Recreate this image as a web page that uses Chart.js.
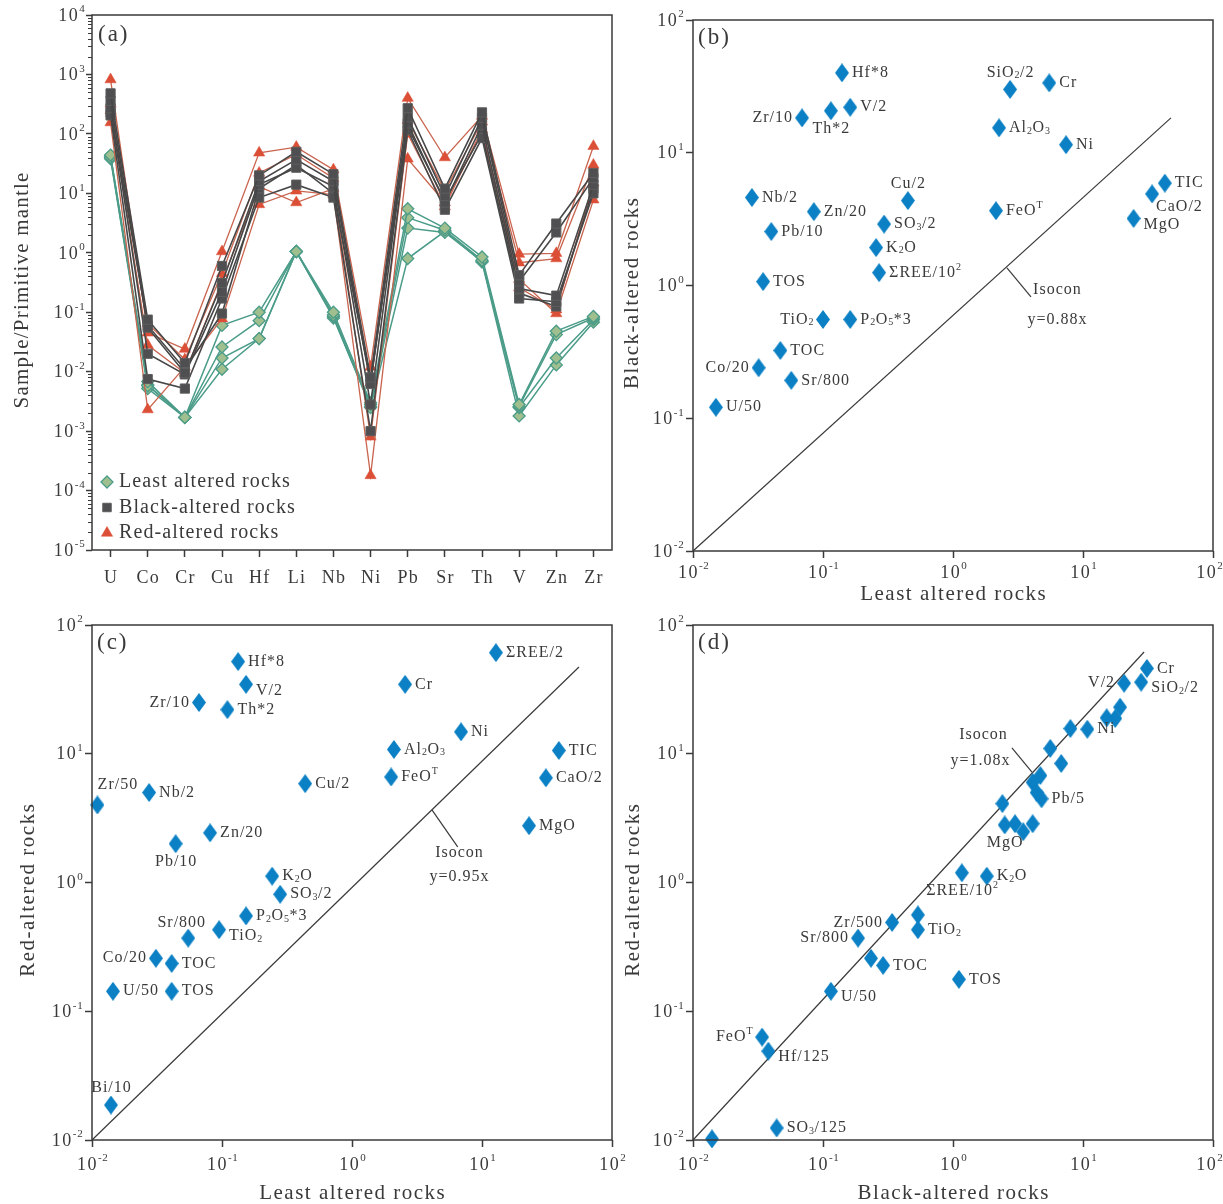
<!DOCTYPE html>
<html>
<head>
<meta charset="utf-8">
<title>Element profiles and isocon plots</title>
<script src="https://cdn.jsdelivr.net/npm/chart.js@4.4.1/dist/chart.umd.min.js"></script>
<style>
  html, body { margin: 0; padding: 0; background: #fff; }
  #page { position: relative; width: 1223px; height: 1204px; overflow: hidden; }
  #page canvas { position: absolute; }
</style>
</head>
<body>
<div id="page">
  <canvas id="panelA" width="640" height="600" style="left:0;top:0"></canvas>
  <canvas id="panelB" width="611" height="600" style="left:612px;top:0"></canvas>
  <canvas id="panelC" width="640" height="604" style="left:0;top:600px"></canvas>
  <canvas id="panelD" width="611" height="604" style="left:612px;top:600px"></canvas>
</div>
<script>
// ---- panel (a): sample / primitive mantle ----
const elements = ['U', 'Co', 'Cr', 'Cu', 'Hf', 'Li', 'Nb', 'Ni', 'Pb', 'Sr', 'Th', 'V', 'Zn', 'Zr'];
const profileTicks = [1e-5, 1e-4, 1e-3, 1e-2, 1e-1, 1, 10, 100, 1000, 10000];

const least1 = [44, 0.0068, 0.0017, 0.060, 0.100, 1.05, 0.100, 0.0030, 5.5, 2.6, 0.85, 0.0028, 0.048, 0.085];
const least2 = [40, 0.0058, 0.0017, 0.026, 0.072, 1.05, 0.090, 0.0028, 3.9, 2.4, 0.75, 0.0026, 0.042, 0.080];
const least3 = [38, 0.0052, 0.0017, 0.017, 0.036, 1.05, 0.085, 0.0025, 2.6, 2.2, 0.72, 0.0025, 0.017, 0.075];
const least4 = [42, 0.0060, 0.0017, 0.011, 0.036, 1.05, 0.080, 0.0026, 0.80, 2.3, 0.70, 0.0018, 0.013, 0.068];

const black1 = [480, 0.075, 0.014, 0.60, 20, 50, 21, 0.0080, 270, 12, 230, 0.42, 3.1, 22];
const black2 = [360, 0.055, 0.0095, 0.31, 16, 37, 16, 0.0062, 190, 9.0, 185, 0.33, 2.2, 18];
const black3 = [270, 0.020, 0.0090, 0.22, 14, 27, 13, 0.0028, 150, 7.0, 140, 0.25, 0.19, 14];
const black4 = [205, 0.0075, 0.0052, 0.17, 8.5, 14, 8.5, 0.0010, 115, 5.3, 85, 0.17, 0.15, 10];
const black5 = [230, 0.060, 0.011, 0.095, 12, 30, 10, 0.0070, 130, 7.5, 100, 0.21, 0.125, 12];

const red1 = [820, 0.045, 0.024, 1.05, 48, 60, 25, 0.012, 400, 40, 200, 0.95, 0.98, 62];
const red2 = [320, 0.065, 0.016, 0.45, 22, 45, 18, 0.0065, 170, 11, 160, 0.68, 0.80, 30];
const red3 = [155, 0.0023, 0.012, 0.078, 6.5, 11, 9.5, 0.00018, 38, 7.0, 105, 0.36, 0.095, 7.8];
const red4 = [250, 0.028, 0.0095, 0.33, 13, 7.0, 12, 0.0008, 100, 6.0, 120, 0.26, 0.11, 15];

// ---- panels (b)-(d): isocon diagrams ----
const isoconTicks = [0.01, 0.1, 1, 10, 100];

// (b) least altered (x) vs black-altered (y)
const bLabels = ['Hf*8', 'V/2', 'Th*2', 'Zr/10', 'SiO_2/2', 'Cr', 'Al_2O_3', 'Ni', 'Cu/2', 'Nb/2', 'Zn/20', 'SO_3/2', 'Pb/10',
  'K_2O', 'ΣREE/10^2', 'TOS', 'FeO^T', 'TIC', 'CaO/2', 'MgO', 'TiO_2', 'P_2O_5*3', 'TOC', 'Co/20', 'Sr/800', 'U/50'];
const bLeast = [0.14, 0.162, 0.115, 0.069, 2.75, 5.5, 2.26, 7.4, 0.45, 0.0284, 0.085, 0.295, 0.040,
  0.256, 0.27, 0.0346, 2.14, 42.6, 34, 24.5, 0.100, 0.162, 0.047, 0.032, 0.057, 0.015];
const bBlack = [40, 22, 20.7, 18.3, 30, 33.6, 15.4, 11.5, 4.36, 4.6, 3.6, 2.9, 2.55,
  1.93, 1.25, 1.07, 3.66, 5.9, 4.9, 3.2, 0.555, 0.555, 0.324, 0.24, 0.193, 0.121];
const bIsocon = [[0.01, 0.01], [47.5, 18.3]];

// (c) least altered (x) vs red-altered (y)
const cLabels = ['Hf*8', 'V/2', 'Zr/10', 'Th*2', 'ΣREE/2', 'Cr', 'Ni', 'Al_2O_3', 'FeO^T', 'TIC', 'CaO/2', 'MgO', 'Cu/2', 'Zr/50',
  'Nb/2', 'Zn/20', 'Pb/10', 'K_2O', 'SO_3/2', 'P_2O_5*3', 'TiO_2', 'Sr/800', 'Co/20', 'TOC', 'U/50', 'TOS', 'Bi/10'];
const cLeast = [0.133, 0.153, 0.0665, 0.11, 12.8, 2.56, 6.9, 2.1, 2.0, 39, 31, 23, 0.436, 0.011,
  0.0275, 0.081, 0.044, 0.243, 0.28, 0.153, 0.095, 0.055, 0.031, 0.041, 0.0145, 0.041, 0.014];
const cRed = [52, 34.6, 25, 22, 61, 34.6, 14.8, 10.8, 6.6, 10.6, 6.5, 2.76, 5.86, 4.0,
  5.0, 2.43, 2.0, 1.12, 0.81, 0.55, 0.43, 0.37, 0.258, 0.235, 0.143, 0.143, 0.0187];
const cIsocon = [[0.01, 0.01], [55.7, 47.2]];

// (d) black-altered (x) vs red-altered (y)
const dLabels = ['Cr', 'SiO_2/2', 'V/2', '', '', '', '', 'Ni', '', '', '', '', '', 'Pb/5', '', 'MgO', '', '', '',
  'ΣREE/10^2', 'K_2O', '', 'TiO_2', 'TOS', 'Zr/500', 'Sr/800', '', 'TOC', 'U/50', 'FeO^T', 'Hf/125', 'SO_3/125', ''];
const dBlack = [31, 28, 20.7, 19.3, 17.7, 15.2, 8.0, 10.8, 5.6, 6.8, 4.7, 4.1, 4.4, 4.8, 2.4, 2.5, 3.0, 3.47, 4.1,
  1.17, 1.82, 0.537, 0.537, 1.11, 0.34, 0.186, 0.234, 0.29, 0.115, 0.034, 0.038, 0.044, 0.014];
const dRed = [46, 36, 35.3, 23, 18.8, 19, 15.7, 15.5, 11, 8.4, 6.77, 6.0, 5.0, 4.47, 4.1, 2.8, 2.86, 2.48, 2.86,
  1.19, 1.12, 0.56, 0.43, 0.177, 0.49, 0.37, 0.258, 0.227, 0.143, 0.063, 0.049, 0.0124, 0.0102];
const dIsocon = [[0.01, 0.01], [29.5, 61.7]];

// label placement (offset from the marker, in px)
const bPos = ['r', 'r', 'b', 'l', 't', 'r', 'r', 'r', 't', 'r', 'r', 'r', 'r', 'r', 'r', 'r', 'r', 'r', 'br', 'rb', 'l', 'r', 'r', 'l', 'r', 'r'];
const cPos = ['r', 'rb', 'l', 'r', 'r', 'r', 'r', 'r', 'r', 'r', 'r', 'r', 'r', 'tr', 'r', 'r', 'b', 'r', 'r', 'r', 'rb', 'tl', 'l', 'r', 'r', 'r', 't'];
const dPos = ['r', 'rb', 'l', '', '', '', '', 'r', '', '', '', '', '', 'r', '', 'b', '', '', '', 'b', 'r', '', 'r', 'r', 'l', 'l', '', 'r', 'rb', 'l', 'rb', 'r', ''];
const OFFSET = {
  r: [10, 0, 'left'], l: [-10, 0, 'right'], t: [0, -17, 'center'], b: [0, 18, 'center'],
  rb: [10, 6, 'left'], br: [4, 13, 'left'], tr: [20, -20, 'center'], tl: [-7, -15, 'center']
};

// isocon notes: leader line + text anchor, in data units
const bNote = { leader: [[2.6, 1.36], [3.98, 0.82]], at: [6.3, 0.925], eqAt: [6.3, 0.55], eq: 'y=0.88x' };
const cNote = { leader: [[4.12, 3.66], [6.5, 1.89]], at: [6.65, 1.69], eqAt: [6.65, 1.10], eq: 'y=0.95x' };
const dNote = { leader: [[2.84, 11.1], [4.05, 7.2]], at: [1.70, 14.0], eqAt: [1.61, 8.8], eq: 'y=1.08x' };

const SERIF = "'Liberation Serif', 'Times New Roman', Times, serif";
const INK = '#3a3a3a';
const BLUE = '#0b80c4';

// "_" = subscript digits, "^" = superscript
function parseRich(str) {
  const parts = [];
  let i = 0;
  while (i < str.length) {
    const c = str[i];
    let j = i + 1;
    if (c === '_') {
      while (j < str.length && /[0-9]/.test(str[j])) j++;
      parts.push({ t: str.slice(i + 1, j), k: 'sub' });
    } else if (c === '^') {
      while (j < str.length && /[-0-9T]/.test(str[j])) j++;
      parts.push({ t: str.slice(i + 1, j), k: 'sup' });
    } else {
      j = i;
      while (j < str.length && str[j] !== '_' && str[j] !== '^') j++;
      parts.push({ t: str.slice(i, j), k: 'n' });
    }
    i = j;
  }
  return parts;
}

const fontFor = (k, size) => (k === 'n' ? size : Math.round(size * 0.62)) + 'px ' + SERIF;
const spFor = (k, sp) => (k === 'n' ? sp : sp * 0.5) + 'px';

function measureRich(ctx, parts, size, sp) {
  let total = 0;
  parts.forEach(p => {
    ctx.font = fontFor(p.k, size);
    ctx.letterSpacing = spFor(p.k, sp);
    p.w = ctx.measureText(p.t).width;
    total += p.w;
  });
  ctx.letterSpacing = '0px';
  return total - sp;
}

// maxX keeps the text inside the canvas when given
function drawRich(ctx, str, x, y, size, align, spacing, maxX) {
  const parts = parseRich(str);
  const sp = spacing || 0;
  const total = measureRich(ctx, parts, size, sp);
  let cx = align === 'left' ? x : align === 'right' ? x - total : x - total / 2;
  if (maxX !== undefined && cx + total > maxX) cx = maxX - total;
  ctx.textAlign = 'left';
  ctx.textBaseline = 'middle';
  parts.forEach(p => {
    ctx.font = fontFor(p.k, size);
    ctx.letterSpacing = spFor(p.k, sp);
    const dy = p.k === 'sub' ? size * 0.2 : p.k === 'sup' ? -size * 0.36 : 0;
    ctx.fillText(p.t, cx, y + dy);
    cx += p.w;
  });
  ctx.letterSpacing = '0px';
}

const expLabel = v => '10^' + Math.round(Math.log10(v));

function drawFrame(ctx, a) {
  ctx.lineWidth = 1.5;
  ctx.strokeRect(a.left, a.top, a.right - a.left, a.bottom - a.top);
}

function yTitle(ctx, text, x, y, size, spacing) {
  ctx.save();
  ctx.translate(x, y);
  ctx.rotate(-Math.PI / 2);
  drawRich(ctx, text, 0, 0, size, 'center', spacing);
  ctx.restore();
}

function decoPlugin(draw) {
  return {
    id: 'deco',
    afterDraw(chart) {
      const ctx = chart.ctx;
      ctx.save();
      ctx.fillStyle = INK;
      ctx.strokeStyle = INK;
      draw(ctx, chart.chartArea, chart.scales.x, chart.scales.y, chart);
      ctx.restore();
    }
  };
}

const axisGrid = { drawOnChartArea: false, tickLength: 7, tickColor: INK, tickWidth: 1.5 };

// tall blue diamond used in the isocon plots
function tallDiamond(w, h, color) {
  const c = document.createElement('canvas');
  c.width = w; c.height = h;
  const g = c.getContext('2d');
  g.fillStyle = color;
  g.beginPath();
  g.moveTo(w / 2, 0); g.lineTo(w, h / 2); g.lineTo(w / 2, h); g.lineTo(0, h / 2);
  g.closePath();
  g.fill();
  return c;
}
const blueDiamond = tallDiamond(14, 19, BLUE);

// ---------- panel (a) ----------
const greenStyle = { borderColor: '#4b9c89', borderWidth: 1.5, pointStyle: 'rectRot', pointRadius: 6,
  pointBackgroundColor: '#a0bf8e', pointBorderColor: '#4b9c89', pointBorderWidth: 1.3 };
const blackStyle = { borderColor: '#474747', borderWidth: 1.6, pointStyle: 'rect', pointRadius: 6.5,
  pointBackgroundColor: '#4f4f51', pointBorderColor: '#5e5e5e', pointBorderWidth: 1 };
const redStyle = { borderColor: '#c9654f', borderWidth: 1.3, pointStyle: 'triangle', pointRadius: 6.5,
  pointBackgroundColor: '#dc4f37', pointBorderColor: '#dc4f37', pointBorderWidth: 0.5 };

// dataset 0 is painted last, so black sits on top and green underneath
const profileSets = []
  .concat([black1, black2, black3, black4, black5].map(d => Object.assign({ data: d }, blackStyle)))
  .concat([red1, red2, red3, red4].map(d => Object.assign({ data: d }, redStyle)))
  .concat([least1, least2, least3, least4].map(d => Object.assign({ data: d }, greenStyle)));

function drawPanelA(ctx, a, sx, sy) {
  drawFrame(ctx, a);
  ctx.lineWidth = 1;
  for (let d = 0; d < profileTicks.length - 1; d++) {
    for (let k = 2; k < 10; k++) {
      const py = Math.round(sy.getPixelForValue(profileTicks[d] * k)) + 0.5;
      ctx.beginPath(); ctx.moveTo(a.left - 4, py); ctx.lineTo(a.left, py); ctx.stroke();
    }
  }
  profileTicks.forEach(v => drawRich(ctx, expLabel(v), a.left - 8, sy.getPixelForValue(v) + 1, 18, 'right', 1.5));
  elements.forEach((el, i) => drawRich(ctx, el, sx.getPixelForValue(i), a.bottom + 28, 18, 'center', 1.2));
  yTitle(ctx, 'Sample/Primitive mantle', a.left - 70, (a.top + a.bottom) / 2 + 8, 21, 1.2);
  drawRich(ctx, '(a)', a.left + 6, a.top + 20, 23, 'left', 2);

  // legend
  const rows = [
    ['Least altered rocks', greenStyle, 6],
    ['Black-altered rocks', blackStyle, 6],
    ['Red-altered rocks', redStyle, 6.5]
  ];
  rows.forEach((r, i) => {
    const y = a.bottom - 68 + i * 25.5;
    const st = r[1];
    ctx.save();
    ctx.fillStyle = st.pointBackgroundColor;
    ctx.strokeStyle = st.pointBorderColor;
    ctx.lineWidth = st.pointBorderWidth;
    Chart.helpers.drawPoint(ctx, { pointStyle: st.pointStyle, radius: r[2], rotation: 0, borderWidth: st.pointBorderWidth }, a.left + 15, y);
    ctx.restore();
    ctx.fillStyle = INK;
    drawRich(ctx, r[0], a.left + 27, y, 20, 'left', 1.1);
  });
}

new Chart(document.getElementById('panelA'), {
  type: 'line',
  data: { labels: elements, datasets: profileSets },
  options: {
    responsive: false,
    animation: false,
    events: [],
    layout: { padding: { top: 15, right: 28, bottom: 0, left: 0 } },
    plugins: { legend: { display: false }, tooltip: { enabled: false } },
    scales: {
      x: {
        type: 'category', offset: true,
        ticks: { display: false }, grid: axisGrid, border: { display: false },
        afterFit: s => { s.height = 50; }
      },
      y: {
        type: 'logarithmic', min: 1e-5, max: 1e4,
        ticks: { display: false }, grid: Object.assign({}, axisGrid, { tickLength: 6 }), border: { display: false },
        afterFit: s => { s.width = 92; },
        afterBuildTicks: s => { s.ticks = profileTicks.map(v => ({ value: v })); }
      }
    }
  },
  plugins: [decoPlugin(drawPanelA)]
});

// ---------- panels (b)-(d) ----------
function isoconChart(id, cfg) {
  const pts = cfg.xs.map((x, i) => ({ x: x, y: cfg.ys[i] }));
  const toPts = arr => arr.map(p => ({ x: p[0], y: p[1] }));
  const lineStyle = { showLine: true, borderColor: INK, borderWidth: 1.2, pointRadius: 0, clip: false };

  const draw = (ctx, a, sx, sy, chart) => {
    drawFrame(ctx, a);
    isoconTicks.forEach(v => {
      drawRich(ctx, expLabel(v), a.left - 10, sy.getPixelForValue(v) + 1, 18, 'right', 1.5);
      drawRich(ctx, expLabel(v), sx.getPixelForValue(v), a.bottom + cfg.xLabelGap, 18, 'center', 1.5, chart.width - 1);
    });
    cfg.labels.forEach((t, i) => {
      if (!t) return;
      const o = OFFSET[cfg.pos[i]];
      drawRich(ctx, t, sx.getPixelForValue(cfg.xs[i]) + o[0], sy.getPixelForValue(cfg.ys[i]) + o[1], 16, o[2], 1);
    });
    const n = cfg.note;
    drawRich(ctx, 'Isocon', sx.getPixelForValue(n.at[0]), sy.getPixelForValue(n.at[1]), 16, 'center', 1);
    drawRich(ctx, n.eq, sx.getPixelForValue(n.eqAt[0]), sy.getPixelForValue(n.eqAt[1]), 16, 'center', 1);
    yTitle(ctx, cfg.yTitle, a.left - cfg.yTitleGap, (a.top + a.bottom) / 2 + 8, 21, 1.5);
    drawRich(ctx, cfg.xTitle, (a.left + a.right) / 2, a.bottom + cfg.xTitleGap, 21, 'center', 1.5);
    drawRich(ctx, cfg.letter, a.left + 5, a.top + 18, 23, 'left', 2);
  };

  const logAxis = extra => Object.assign({
    type: 'logarithmic', min: 0.01, max: 100,
    ticks: { display: false }, grid: axisGrid, border: { display: false },
    afterBuildTicks: s => { s.ticks = isoconTicks.map(v => ({ value: v })); }
  }, extra);

  return new Chart(document.getElementById(id), {
    type: 'scatter',
    data: {
      datasets: [
        { data: pts, pointStyle: blueDiamond, pointRadius: 9, clip: false },
        Object.assign({ data: toPts(cfg.isocon) }, lineStyle),
        Object.assign({ data: toPts(cfg.note.leader) }, lineStyle)
      ]
    },
    options: {
      responsive: false,
      animation: false,
      events: [],
      layout: { padding: { top: cfg.top, right: cfg.right, bottom: 0, left: 0 } },
      plugins: { legend: { display: false }, tooltip: { enabled: false } },
      scales: {
        x: logAxis({ afterFit: s => { s.height = cfg.xHeight; } }),
        y: logAxis({ afterFit: s => { s.width = cfg.yWidth; } })
      }
    },
    plugins: [decoPlugin(draw)]
  });
}

isoconChart('panelB', {
  xs: bLeast, ys: bBlack, labels: bLabels, pos: bPos, isocon: bIsocon, note: bNote,
  letter: '(b)', xTitle: 'Least altered rocks', yTitle: 'Black-altered rocks',
  top: 20, right: 10, xHeight: 49, yWidth: 81, xLabelGap: 22, xTitleGap: 43, yTitleGap: 61
});

isoconChart('panelC', {
  xs: cLeast, ys: cRed, labels: cLabels, pos: cPos, isocon: cIsocon, note: cNote,
  letter: '(c)', xTitle: 'Least altered rocks', yTitle: 'Red-altered rocks',
  top: 25, right: 28, xHeight: 64, yWidth: 92, xLabelGap: 25, xTitleGap: 53, yTitleGap: 64
});

isoconChart('panelD', {
  xs: dBlack, ys: dRed, labels: dLabels, pos: dPos, isocon: dIsocon, note: dNote,
  letter: '(d)', xTitle: 'Black-altered rocks', yTitle: 'Red-altered rocks',
  top: 25, right: 10, xHeight: 64, yWidth: 81, xLabelGap: 25, xTitleGap: 53, yTitleGap: 60
});
</script>
</body>
</html>
